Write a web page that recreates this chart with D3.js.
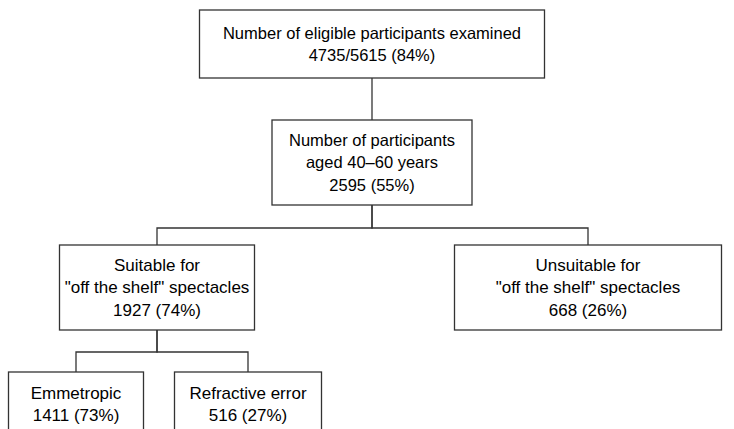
<!DOCTYPE html>
<html>
<head>
<meta charset="utf-8">
<script src="https://cdn.jsdelivr.net/npm/d3@7"></script>
<style>
  body { margin: 0; background: #fff; }
  svg { display: block; }
</style>
</head>
<body>
<div id="flow"></div>
<script>
// flowchart content
var nodeIds = ["examined", "aged", "suitable", "unsuitable", "emmetropic", "refractive"];
var nodeTitles = [
    ["Number of eligible participants examined"],
    ["Number of participants", "aged 40\u201360 years"],
    ["Suitable for", "\"off the shelf\" spectacles"],
    ["Unsuitable for", "\"off the shelf\" spectacles"],
    ["Emmetropic"],
    ["Refractive error"]
];
var nodeCounts = ["4735/5615", "2595", "1927", "668", "1411", "516"];
var nodePercents = [84, 55, 74, 26, 73, 27];
var nodeParents = [null, "examined", "aged", "aged", "suitable", "suitable"];
var nodeLevels = [0, 1, 2, 2, 3, 3];

(function () {

    var width = 734, height = 429;

    var svg = d3.select("#flow")
        .append("svg")
        .attr("width", width)
        .attr("height", height);

    // layout of the boxes (center x, width) by node
    var layout = {
        examined:   { cx: 372, w: 345 },
        aged:       { cx: 372, w: 200 },
        suitable:   { cx: 157, w: 195 },
        unsuitable: { cx: 588, w: 267 },
        emmetropic: { cx: 76,  w: 135 },
        refractive: { cx: 248, w: 147 }
    };

    // row tops and heights by level
    var top = d3.scaleOrdinal().domain([0, 1, 2, 3]).range([10, 120, 245, 372]);
    var boxH = d3.scaleOrdinal().domain([0, 1, 2, 3]).range([68, 85, 85, 64]);
    var barY = d3.scaleOrdinal().domain([1, 2, 3]).range([null, 228, 352]);

    var nodes = nodeIds.map(function (id, i) {
        var lines = nodeTitles[i].slice();
        lines.push(nodeCounts[i] + " (" + nodePercents[i] + "%)");
        var l = nodeLevels[i];
        return {
            id: id,
            lines: lines,
            parent: nodeParents[i],
            level: l,
            x: layout[id].cx - layout[id].w / 2,
            y: top(l),
            w: layout[id].w,
            h: boxH(l)
        };
    });
    var byId = {};
    nodes.forEach(function (d) { byId[d.id] = d; });

    var stroke = "#333";

    // connectors
    var links = nodes.filter(function (d) { return d.parent; });
    svg.append("g")
        .selectAll("path")
        .data(links)
        .enter()
        .append("path")
        .attr("fill", "none")
        .attr("stroke", stroke)
        .attr("stroke-width", 1.3)
        .attr("d", function (d) {
            var p = byId[d.parent];
            var px = p.x + p.w / 2, py = p.y + p.h;
            var cx = d.x + d.w / 2, cy = d.y;
            if (Math.abs(px - cx) < 1) {
                return "M" + px + "," + py + "V" + cy;
            }
            var my = barY(d.level);
            return "M" + px + "," + py + "V" + my + "H" + cx + "V" + cy;
        });

    // boxes
    var box = svg.append("g")
        .selectAll("g")
        .data(nodes)
        .enter()
        .append("g");

    box.append("rect")
        .attr("x", function (d) { return d.x; })
        .attr("y", function (d) { return d.y; })
        .attr("width", function (d) { return d.w; })
        .attr("height", function (d) { return d.h; })
        .attr("fill", "#fff")
        .attr("stroke", stroke)
        .attr("stroke-width", 1.3);

    var lineH = 22.5;
    box.each(function (d) {
        var g = d3.select(this);
        var n = d.lines.length;
        var midY = d.y + d.h / 2;
        var firstY = midY - (n - 1) * lineH / 2;
        var lower = d.level >= 2;
        g.selectAll("text")
            .data(d.lines)
            .enter()
            .append("text")
            .attr("x", d.x + d.w / 2)
            .attr("y", function (t, i) { return firstY + i * lineH; })
            .attr("dy", "0.35em")
            .attr("text-anchor", "middle")
            .style("font-family", "'Liberation Sans', Arial, sans-serif")
            .style("font-size", lower ? "17px" : "16.5px")
            .style("fill", "#000")
            .text(function (t) { return t; });
    });

})();
</script>
</body>
</html>
